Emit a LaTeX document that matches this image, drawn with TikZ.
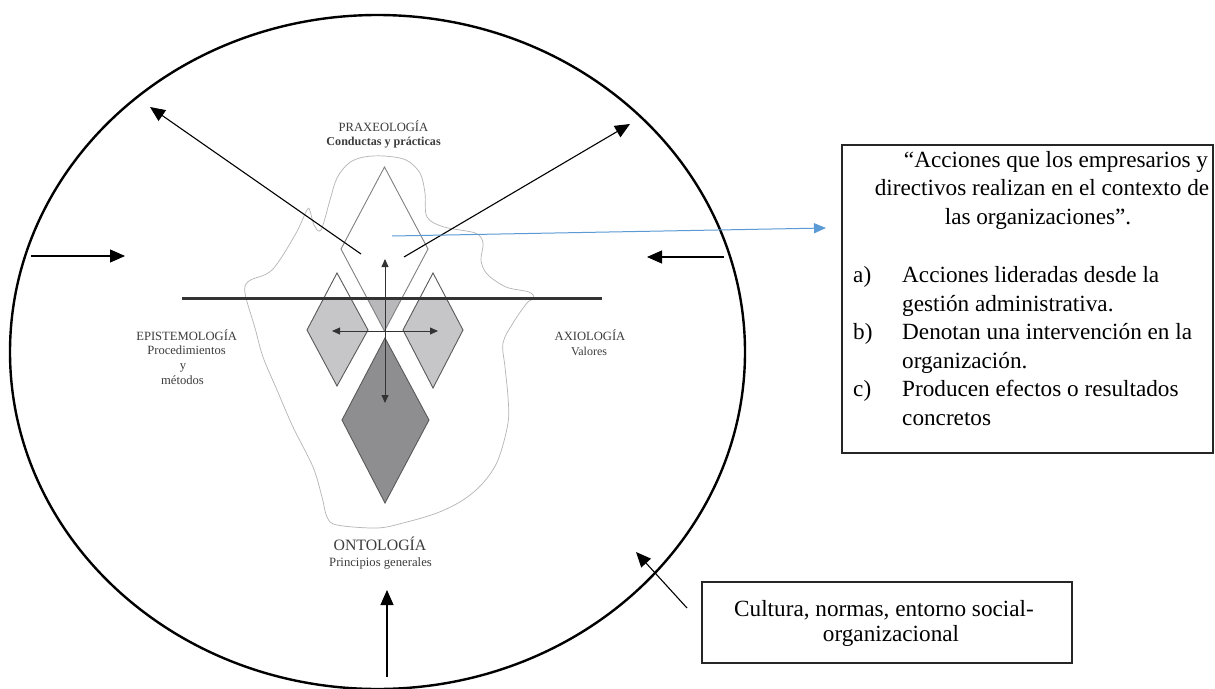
\documentclass[tikz,border=0pt]{standalone}
\usepackage{fontspec}
\setmainfont{Liberation Serif}
\usetikzlibrary{arrows.meta}
\definecolor{lbl}{HTML}{3C3C3C}
\definecolor{blu}{HTML}{5B9BD5}
\definecolor{lgray}{HTML}{C6C6C8}
\definecolor{mgray}{HTML}{B8B8BA}
\definecolor{dgray}{HTML}{8E8E90}
\definecolor{cloudc}{HTML}{B4B4B4}
\begin{document}
\begin{tikzpicture}[x=1pt,y=-1pt,
  bigarrow/.style={line width=1.1pt, -{Triangle[length=15pt,width=13pt]}},
  smallarrow/.style={draw=black!80, line width=0.8pt, -{Triangle[length=8pt,width=7pt]}},
  lab/.style={text=lbl, inner sep=0pt, anchor=base},
  boxtxt/.style={inner sep=0pt, anchor=base, font=\fontsize{23.2}{28}\selectfont},
  boxtxtl/.style={boxtxt, anchor=base west},
  dia/.style={draw=black!65, line width=0.9pt},
  framebox/.style={draw=black!85, line width=1.1pt, rectangle, inner sep=0pt}
]
\useasboundingbox (0,0) rectangle (1215,688);
\fill[white] (0,0) rectangle (1215,688);

% outer ellipse
\draw[line width=2.4pt] (377.5,352) ellipse [x radius=367.5pt, y radius=337pt];

% cloud outline
\draw[cloudc, line width=0.7pt] plot[smooth cycle, tension=0.55] coordinates {
 (384,156) (406,160) (420,173) (425,193) (427,217) (444,227) (475,233) (483,243)
 (481,260) (487,274) (506,287) (529,292) (534,298) (527,303) (513,323) (503,343)
 (505,367) (508,397) (508,423) (498,460) (483,483) (463,500) (437,513) (403,523)
 (377,528) (337,525) (327,517) (322,497) (313,467) (293,427) (277,390) (263,357)
 (255,328) (245,293) (249,281) (272,270) (295,235) (307,210) (310,211) (314,225)
 (321,230) (330,200) (337,178) (349,163) (364,157)};

% fills below the water line
\begin{scope}
  \clip (0,298) rectangle (1215,688);
  \fill[lgray] (337,273) -- (307,330) -- (337,386) -- (368,330) -- cycle;
  \fill[lgray] (433,273) -- (403,330) -- (433,388) -- (463,330) -- cycle;
  \fill[mgray] (384.5,167) -- (341,249) -- (384.5,331) -- (428,249) -- cycle;
\end{scope}
\fill[dgray] (385,338) -- (342,420) -- (385,503) -- (429,420) -- cycle;

% diamond outlines
\draw[dia, draw=black!50] (384.5,167) -- (341,249) -- (384.5,331) -- (428,249) -- cycle;
\draw[dia] (337,273) -- (307,330) -- (337,386) -- (368,330) -- cycle;
\draw[dia] (433,273) -- (403,330) -- (433,388) -- (463,330) -- cycle;
\draw[dia] (385,338) -- (342,420) -- (385,503) -- (429,420) -- cycle;

% water line
\draw[black!80, line width=3pt] (182,298) -- (602,298);

% small arrows from the centre
\coordinate (c0) at (385,331);
\coordinate (au) at (385,259);
\coordinate (ad) at (385,403);
\coordinate (al) at (332,331);
\coordinate (ar) at (438,331);
\draw[smallarrow] (c0) -- (au);
\draw[smallarrow] (c0) -- (ad);
\draw[smallarrow] (c0) -- (al);
\draw[smallarrow] (c0) -- (ar);

% diagram labels
\node[lab, font=\fontsize{12.6}{14}\selectfont] (prax) at (383.5,131) {PRAXEOLOGÍA};
\node[lab, font=\fontsize{12.1}{14}\selectfont\bfseries] (praxs) at (383.6,145) {Conductas y prácticas};
\node[lab, font=\fontsize{12.6}{14}\selectfont] (epis) at (186.7,340) {EPISTEMOLOGÍA};
\node[lab, font=\fontsize{12.6}{14}\selectfont] (epis1) at (186.5,354) {Procedimientos};
\node[lab, font=\fontsize{12.6}{14}\selectfont] (epis2) at (183,369.5) {y};
\node[lab, font=\fontsize{12.6}{14}\selectfont] (epis3) at (182.5,384) {métodos};
\node[lab, font=\fontsize{12.6}{14}\selectfont] (axio) at (590,340) {AXIOLOGÍA};
\node[lab, font=\fontsize{12}{14}\selectfont] (axio1) at (589,355) {Valores};
\node[lab, font=\fontsize{15.8}{18}\selectfont] (onto) at (380,550) {ONTOLOGÍA};
\node[lab, font=\fontsize{12.7}{14}\selectfont] (onto1) at (380.5,566) {Principios generales};

% big arrows
\coordinate (ulS) at (361,254);  \coordinate (ulE) at (150,107);
\coordinate (urS) at (404,257);  \coordinate (urE) at (630,124);
\coordinate (lS)  at (31,256);   \coordinate (lE)  at (125,256);
\coordinate (rS)  at (724,257);  \coordinate (rE)  at (647,257);
\coordinate (bS)  at (387,677);  \coordinate (bE)  at (387,590);
\coordinate (cS)  at (687,608);  \coordinate (cE)  at (636,552);
\coordinate (blS) at (392,236);  \coordinate (blE) at (826,228);
\draw[bigarrow] (ulS) -- (ulE);
\draw[bigarrow] (urS) -- (urE);
\draw[bigarrow] (lS) -- (lE);
\draw[bigarrow] (rS) -- (rE);
\draw[bigarrow] (bS) -- (bE);
\draw[bigarrow] (cS) -- (cE);
\draw[blu, line width=1pt, -{Triangle[length=12pt,width=10pt]}] (blS) -- (blE);

% text box 1
\node[framebox, minimum width=371pt, minimum height=308pt] (box1) at (1027.5,299) {};
\node[boxtxt] (q1) at (1056,167) {“Acciones que los empresarios y};
\node[boxtxt] (q2) at (1042,195.5) {directivos realizan en el contexto de};
\node[boxtxt] (q3) at (1038,224) {las organizaciones”.};
\node[boxtxtl] (la) at (853,282.5) {a)};
\node[boxtxtl] (l1) at (902,282.5) {Acciones lideradas desde la};
\node[boxtxtl] (l2) at (902,311) {gestión administrativa.};
\node[boxtxtl] (lb) at (853,339.5) {b)};
\node[boxtxtl] (l3) at (902,339.5) {Denotan una intervención en la};
\node[boxtxtl] (l4) at (902,368) {organización.};
\node[boxtxtl] (lc) at (853,396.5) {c)};
\node[boxtxtl] (l5) at (902,396.5) {Producen efectos o resultados};
\node[boxtxtl] (l6) at (902,425) {concretos};

% text box 2
\node[framebox, minimum width=370pt, minimum height=81pt] (box2) at (887,622.5) {};
\node[boxtxt] (k1) at (884,616.5) {Cultura, normas, entorno social-};
\node[boxtxt] (k2) at (891,641) {organizacional};
\end{tikzpicture}
\end{document}
